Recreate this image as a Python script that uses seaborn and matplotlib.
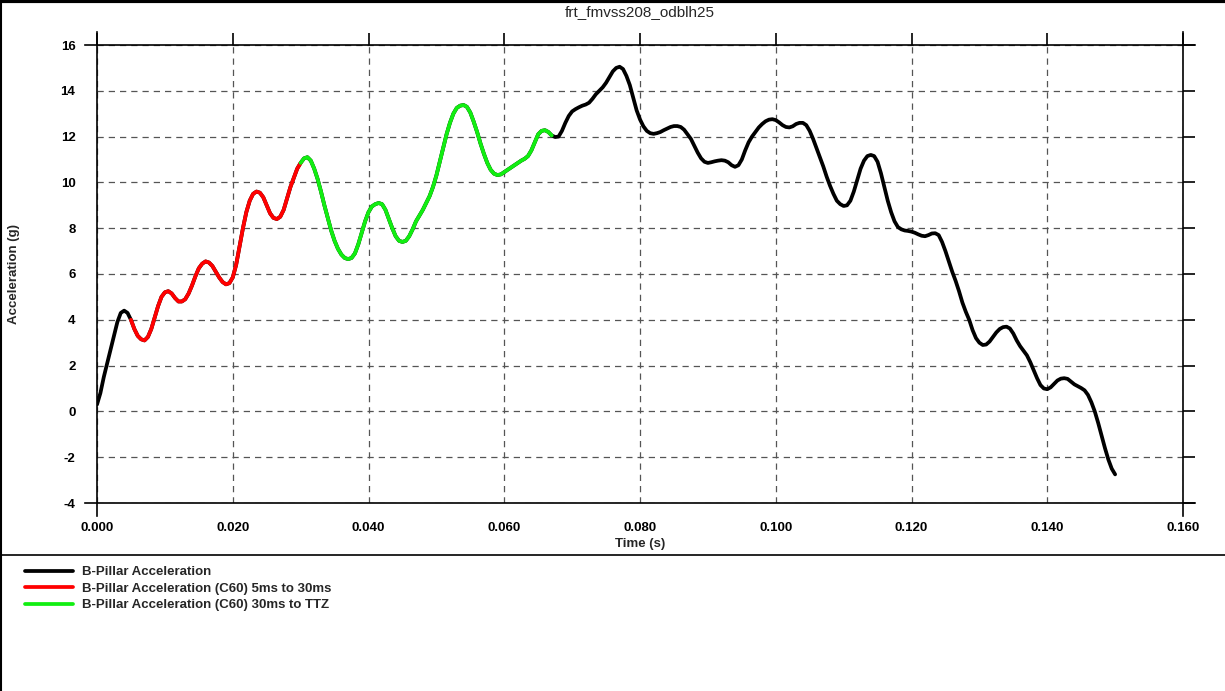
import numpy as np
import pandas as pd
import seaborn as sns
import matplotlib.pyplot as plt
from matplotlib.lines import Line2D
from matplotlib.ticker import FormatStrFormatter

sns.set_style("white")
plt.rcParams['font.family'] = ['Liberation Sans', 'DejaVu Sans']
plt.rcParams['axes.unicode_minus'] = False

title = "frt_fmvss208_odblh25"
labels = ["B-Pillar Acceleration",
          "B-Pillar Acceleration (C60) 5ms to 30ms",
          "B-Pillar Acceleration (C60) 30ms to TTZ"]

# sample times every 0.5 ms, 0 .. 150 ms
time_s = np.arange(0, 301) * 0.0005
accel_g = [
    0.3, 0.8, 1.5, 2.1, 2.7, 3.3, 3.9, 4.3, 4.4, 4.3,
    4.0, 3.6, 3.3, 3.15, 3.1, 3.25, 3.6, 4.1, 4.6, 5.0,
    5.2, 5.25, 5.15, 4.95, 4.8, 4.8, 4.9, 5.15, 5.5, 5.9,
    6.25, 6.45, 6.55, 6.5, 6.35, 6.1, 5.85, 5.65, 5.55, 5.6,
    5.85, 6.4, 7.2, 8.0, 8.7, 9.2, 9.5, 9.6, 9.55, 9.35,
    9.0, 8.65, 8.45, 8.4, 8.5, 8.8, 9.3, 9.8, 10.2, 10.6,
    10.85, 11.05, 11.1, 10.95, 10.6, 10.15, 9.6, 9.0, 8.45, 7.9,
    7.45, 7.1, 6.85, 6.7, 6.65, 6.7, 6.9, 7.3, 7.8, 8.3,
    8.7, 8.95, 9.05, 9.1, 9.05, 8.8, 8.4, 8.0, 7.65, 7.45,
    7.4, 7.45, 7.65, 7.95, 8.3, 8.55, 8.8, 9.1, 9.4, 9.8,
    10.3, 10.9, 11.5, 12.1, 12.6, 13.0, 13.25, 13.35, 13.38, 13.3,
    13.05, 12.65, 12.2, 11.7, 11.25, 10.85, 10.55, 10.38, 10.32, 10.35,
    10.45, 10.55, 10.65, 10.75, 10.85, 10.95, 11.03, 11.15, 11.4, 11.75,
    12.1, 12.25, 12.28, 12.2, 12.05, 11.98, 12.0, 12.25, 12.6, 12.9,
    13.1, 13.2, 13.28, 13.35, 13.4, 13.48, 13.65, 13.85, 14.0, 14.15,
    14.35, 14.6, 14.85, 15.0, 15.05, 14.95, 14.65, 14.25, 13.7, 13.15,
    12.75, 12.45, 12.25, 12.15, 12.12, 12.15, 12.2, 12.28, 12.35, 12.42,
    12.46, 12.46, 12.42, 12.3, 12.1, 11.9, 11.6, 11.3, 11.05, 10.9,
    10.85, 10.88, 10.92, 10.95, 10.97, 10.95, 10.88, 10.75, 10.68, 10.75,
    11.0, 11.4, 11.75, 12.0, 12.2, 12.4, 12.55, 12.67, 12.74, 12.76,
    12.72, 12.62, 12.5, 12.42, 12.4, 12.45, 12.55, 12.6, 12.6, 12.5,
    12.25, 11.9, 11.5, 11.1, 10.7, 10.25, 9.85, 9.5, 9.2, 9.05,
    8.97, 9.0, 9.2, 9.6, 10.1, 10.6, 10.95, 11.15, 11.2, 11.15,
    10.9, 10.4, 9.8, 9.2, 8.7, 8.3, 8.05, 7.95, 7.9, 7.88,
    7.85, 7.8, 7.73, 7.67, 7.65, 7.7, 7.77, 7.78, 7.7, 7.4,
    7.0, 6.55, 6.1, 5.7, 5.25, 4.75, 4.35, 4.0, 3.55, 3.2,
    3.0, 2.9, 2.92, 3.05, 3.25, 3.45, 3.6, 3.68, 3.7, 3.62,
    3.4, 3.1, 2.85, 2.65, 2.45, 2.15, 1.8, 1.45, 1.15, 1.0,
    0.97, 1.05, 1.2, 1.35, 1.43, 1.45, 1.42, 1.3, 1.18, 1.1,
    1.02, 0.92, 0.72, 0.4, 0.0, -0.5, -1.05, -1.6, -2.1, -2.5,
    -2.75,
]
win_red = (0.005, 0.030)
win_green = (0.030, 0.0672)   # 30 ms to TTZ

x_ticks = [0.0, 0.02, 0.04, 0.06, 0.08, 0.10, 0.12, 0.14, 0.16]
y_ticks = [-4, -2, 0, 2, 4, 6, 8, 10, 12, 14, 16]

df = pd.DataFrame({"t": time_s, "a": accel_g})
red = df[(df.t >= win_red[0] - 1e-9) & (df.t <= win_red[1] + 1e-9)]
green = df[(df.t >= win_green[0] - 1e-9) & (df.t <= win_green[1] + 1e-9)]

fig = plt.figure(figsize=(12.25, 6.91), dpi=100)
ax = fig.add_axes([97/1225, 1 - 503/691, 1086/1225, 458/691])

lw = 2.7
sns.lineplot(data=df, x="t", y="a", color="black", linewidth=lw, label=labels[0], ax=ax)
sns.lineplot(data=red, x="t", y="a", color="#ff0000", linewidth=lw, label=labels[1], ax=ax)
sns.lineplot(data=green, x="t", y="a", color="#11ee11", linewidth=lw, label=labels[2], ax=ax)

ax.set_xlim(0, 0.16)
ax.set_ylim(-4, 16)
ax.set_xticks(x_ticks)
ax.set_yticks(y_ticks)
ax.xaxis.set_major_formatter(FormatStrFormatter("%.3f"))
ax.grid(True, color="#555555", linestyle=(0, (5, 4)), linewidth=0.9)
ax.set_axisbelow(True)

for side in ["left", "right"]:
    ax.spines[side].set_bounds(-4.55, 16.55)
for side in ["top", "bottom"]:
    ax.spines[side].set_bounds(-0.0018, 0.1618)
for sp in ax.spines.values():
    sp.set_visible(True)
    sp.set_color("black")
    sp.set_linewidth(1.2)

fs = 9.5
ax.tick_params(direction="out", length=8.5, width=1.2, top=True, right=True,
               labelsize=fs, colors="black")
ax.tick_params(axis="y", pad=7)
ax.tick_params(axis="x", pad=5)
for lab in ax.get_xticklabels() + ax.get_yticklabels():
    lab.set_fontweight("bold")

ax.set_xlabel("Time (s)", fontsize=fs, fontweight="bold")
ax.set_ylabel("Acceleration (g)", fontsize=fs, fontweight="bold")
ax.xaxis.set_label_coords(0.5, -0.077)
ax.yaxis.set_label_coords(-0.071, 0.5)
ax.set_title(title, fontsize=11, pad=21)

handles, labs = ax.get_legend_handles_labels()
ax.get_legend().remove()
fig.legend(handles, labs, loc="upper left", bbox_to_anchor=(25/1225, 1 - 566/691),
           frameon=False, prop={"size": fs, "weight": "bold"}, handlelength=3.6,
           labelspacing=0.33, handletextpad=0.75, borderaxespad=0, borderpad=0)

# figure frame and separator above the legend
fig.add_artist(Line2D([0, 1], [1 - 555/691] * 2, color="black", linewidth=1.2))
fig.add_artist(Line2D([0, 1], [0.998, 0.998], color="black", linewidth=3))
fig.add_artist(Line2D([0.001, 0.001], [0, 1], color="black", linewidth=1.5))

fig.savefig("out.png", dpi=100)
